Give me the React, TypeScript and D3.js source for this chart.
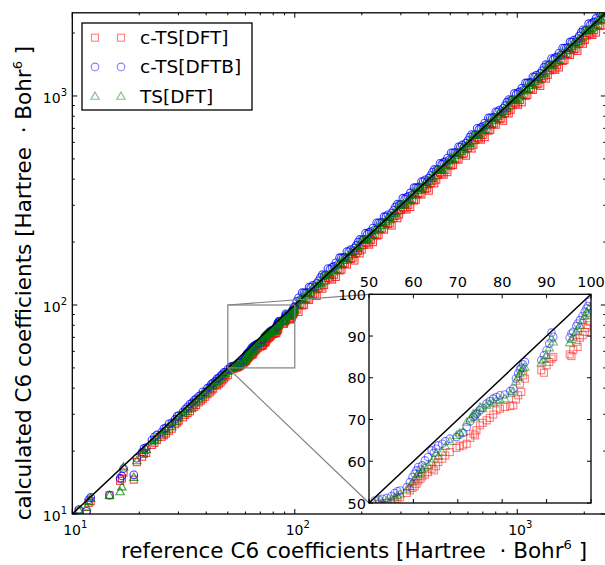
import React from "react";
import * as d3 from "d3";

// reference C6 values (x) and calculated values for each method (y), index-aligned
const refC6 = [
  10.7, 11.6, 11.85, 12.1, 14.7, 16.4, 16.7, 17.0, 18.9, 19.5, 20.6, 21.5, 22.8, 24.0, 25.2, 26.4, 28.0, 29.0, 30.1, 31.5, 33.0, 34.6, 36.0, 37.8, 39.6, 41.5, 43.0, 44.0, 45.6, 47.2, 48.8, 50.0,
  21.0, 23.4, 25.8, 27.2, 29.6, 32.2, 33.8, 35.3, 37.0, 38.6, 40.5, 42.2, 44.8, 46.4, 48.0,
  51.3, 53.0, 54.0, 55.8, 57.0, 58.5, 59.2, 60.3, 61.1, 62.0, 63.3, 64.1, 65.6, 66.5, 68.2, 69.7, 71.2, 72.0, 73.5, 74.2, 75.0, 76.5, 78.0, 78.7, 80.6, 82.5, 83.6, 84.3, 85.1, 88.8, 90.0, 91.1, 95.2, 96.0, 96.7, 97.5, 98.6, 99.3, 99.7,
  52.2, 55.0, 56.4, 59.8, 60.7, 61.6, 62.6, 64.6, 65.1, 67.2, 70.4, 72.8, 73.9, 75.6, 77.2, 79.5, 81.8, 83.1, 84.0, 84.7, 89.4, 90.6, 91.5, 95.6, 97.0, 98.1, 99.0,
  102, 106, 110, 114, 118, 123, 128, 133, 138, 144, 150, 156, 162, 168, 175, 182, 189, 196, 204, 212, 220, 229, 238, 247, 257, 267, 278, 289, 300, 312, 324, 337, 350, 364, 378, 393, 408, 424, 441, 458, 476, 495, 514, 534, 555, 577, 600, 623, 648, 673, 700, 727, 756, 785, 816, 848, 881, 916, 952, 989, 1028, 1068, 1110, 1153, 1198, 1245, 1294, 1345, 1398, 1452, 1509, 1568, 1630, 1694, 1760, 1829, 1900, 1975, 2052, 2133, 2216, 2303, 2393, 2480,
  104, 108, 112, 116, 120.5, 125.5, 130.5, 135.5, 141, 147, 153, 159, 165, 171.5, 178.5, 185.5, 192.5, 200, 208, 216, 224.5, 233.5, 242.5, 252, 262, 272.5, 283.5, 294.5, 306, 318, 330.5, 343.5, 357, 371, 385.5, 400.5, 416, 432.5, 449.5, 467, 485.5, 504.5, 524, 544.5, 566, 588.5, 611.5, 635.5, 660.5, 686.5, 713.5, 741.5, 770.5, 800.5, 832, 864.5, 898.5, 934, 970.5, 1008.5, 1048, 1089, 1131.5, 1175.5, 1221.5, 1269.5, 1319.5, 1371.5, 1425, 1480.5, 1538.5, 1599, 1662, 1727, 1794.5, 1864.5, 1937.5, 2013.5, 2092.5, 2174.5, 2259.5, 2348, 2436.5,
];

const ctsDft = [
  10.3, 10.0, 11.3, 11.5, 12.3, 14.4, 14.8, 15.8, 14.6, 17.7, 18.8, 19.6, 21.4, 22.6, 23.4, 24.3, 25.6, 26.9, 28.0, 29.0, 30.4, 32.1, 33.2, 34.9, 36.4, 38.2, 39.8, 41.4, 42.0, 43.6, 45.4, 46.2,
  19.4, 21.9, 23.8, 25.0, 27.4, 29.8, 31.0, 32.6, 34.2, 35.6, 37.4, 39.0, 41.2, 42.6, 44.4,
  48.9, 49.5, 50.0, 50.6, 51.4, 52.4, 53.0, 54.0, 55.4, 56.4, 57.4, 58.2, 59.8, 60.6, 62.2, 63.2, 63.8, 64.2, 66.6, 67.4, 68.6, 69.8, 71.2, 72.2, 73.0, 73.4, 75.8, 76.6, 79.8, 81.8, 83.0, 84.6, 85.6, 86.6, 88.6, 89.6, 91.0, 92.6, 93.4,
  49.8, 50.2, 51.0, 53.6, 54.6, 55.8, 56.8, 57.8, 58.8, 61.4, 63.6, 65.6, 66.2, 69.2, 70.4, 72.6, 73.2, 74.8, 78.6, 80.6, 81.2, 83.8, 85.0, 85.2, 87.4, 90.2, 92.0,
  94.9, 100.7, 100.1, 107.2, 113.3, 113.2, 120.3, 119.7, 131.1, 133.9, 139.5, 148.2, 147.4, 157.9, 168.0, 167.4, 177.7, 176.4, 193.8, 197.2, 204.6, 217.6, 216.6, 232.2, 246.7, 245.6, 261.3, 260.1, 285.0, 290.2, 301.3, 320.2, 318.5, 342.2, 362.9, 361.6, 383.5, 381.6, 419.0, 425.9, 442.7, 470.3, 467.7, 502.0, 532.8, 530.8, 564.0, 560.7, 615.6, 625.9, 651.0, 690.7, 688.0, 737.9, 783.4, 780.2, 828.1, 824.4, 904.4, 919.8, 956.0, 1014.6, 1010.1, 1083.8, 1150.1, 1145.4, 1216.4, 1210.5, 1328.1, 1350.4, 1403.4, 1489.6, 1483.3, 1592.4, 1689.6, 1682.7, 1786.0, 1777.5, 1949.4, 1983.7, 2060.9, 2187.9, 2177.6, 2331.2,
  92.6, 99.4, 106.4, 105.6, 112.1, 110.4, 122.7, 124.7, 135.4, 132.3, 136.2, 146.3, 156.8, 156.1, 166.0, 163.2, 181.0, 184.0, 199.7, 194.4, 199.8, 214.8, 230.4, 229.3, 243.7, 239.8, 266.5, 270.9, 293.8, 286.2, 294.1, 316.0, 339.2, 337.6, 358.5, 352.4, 391.0, 397.9, 431.5, 420.3, 432.1, 464.1, 497.8, 495.5, 526.4, 517.9, 574.8, 584.7, 634.1, 617.9, 635.0, 682.2, 732.0, 728.5, 773.8, 760.8, 844.6, 859.3, 931.7, 907.7, 932.7, 1001.9, 1074.9, 1069.7, 1136.0, 1117.2, 1240.3, 1261.8, 1368.0, 1332.5, 1369.3, 1471.1, 1578.9, 1571.6, 1668.9, 1640.8, 1821.3, 1852.4, 2008.8, 1957.1, 2011.0, 2160.2, 2314.7,
];

const ctsDftb = [
  10.5, 10.3, 11.7, 12.0, 12.3, 14.8, 15.2, 16.5, 15.4, 18.5, 19.8, 20.8, 22.6, 23.9, 24.6, 25.8, 27.3, 28.4, 29.6, 30.8, 32.6, 34.0, 35.6, 37.0, 38.4, 40.6, 42.4, 43.2, 44.8, 46.4, 47.8, 49.2,
  20.6, 23.4, 25.6, 27.0, 29.4, 31.8, 33.6, 35.0, 36.6, 38.4, 40.0, 41.8, 44.4, 45.8, 47.6,
  50.6, 51.0, 51.2, 52.4, 53.0, 53.8, 55.0, 57.0, 58.6, 59.0, 61.0, 62.6, 63.8, 64.2, 65.4, 65.8, 66.8, 68.2, 70.6, 71.4, 72.2, 73.8, 75.0, 75.4, 76.0, 77.4, 81.0, 82.4, 83.8, 84.2, 86.6, 90.8, 89.6, 91.0, 92.4, 93.8, 95.8, 97.2, 98.2,
  50.8, 51.6, 52.8, 56.2, 57.8, 58.0, 60.2, 62.0, 63.0, 64.8, 66.4, 69.6, 71.0, 72.8, 74.4, 75.8, 76.8, 79.8, 82.0, 83.2, 85.4, 88.2, 89.8, 90.6, 93.0, 94.8, 96.6,
  104.0, 106.0, 114.4, 115.1, 121.5, 121.8, 130.6, 139.7, 139.4, 148.3, 153.0, 156.0, 168.5, 169.7, 180.3, 180.2, 192.8, 205.8, 206.0, 218.4, 224.4, 229.0, 247.5, 249.5, 264.7, 264.3, 283.6, 303.5, 303.0, 321.4, 330.5, 337.0, 364.0, 367.6, 389.3, 389.1, 416.2, 445.2, 445.4, 471.7, 485.5, 495.0, 534.6, 539.3, 571.7, 571.2, 612.0, 654.2, 654.5, 693.2, 714.0, 727.0, 786.2, 792.9, 840.5, 839.5, 898.6, 961.8, 961.5, 1018.7, 1048.6, 1068.0, 1154.4, 1164.5, 1233.9, 1232.6, 1319.9, 1412.3, 1412.0, 1495.6, 1539.2, 1568.0, 1695.2, 1710.9, 1812.8, 1810.7, 1938.0, 2073.8, 2072.5, 2197.0, 2260.3, 2303.0, 2488.7, 2504.8,
  108.2, 114.5, 114.2, 121.8, 124.1, 126.8, 135.7, 138.2, 149.5, 151.4, 159.1, 168.5, 168.3, 180.1, 183.9, 187.4, 200.2, 204.0, 220.5, 222.5, 233.5, 247.5, 247.4, 264.6, 269.9, 275.2, 294.8, 300.4, 324.4, 327.5, 343.7, 364.1, 364.1, 389.6, 397.1, 404.5, 432.6, 441.2, 476.5, 481.0, 504.9, 534.8, 534.5, 571.7, 583.0, 594.4, 636.0, 648.2, 700.1, 707.1, 742.0, 786.0, 785.9, 840.5, 857.0, 873.1, 934.4, 952.7, 1028.7, 1038.8, 1089.9, 1154.3, 1154.1, 1234.3, 1258.1, 1282.2, 1372.3, 1398.9, 1510.5, 1524.9, 1600.0, 1694.9, 1695.2, 1813.4, 1848.3, 1883.1, 2015.0, 2053.8, 2218.1, 2239.7, 2349.9, 2488.9, 2485.2,
];

const tsDft = [
  10.45, 10.8, 11.5, 11.9, 12.3, 12.8, 13.5, 16.8, 15.0, 18.0, 19.6, 20.4, 22.2, 23.2, 24.0, 25.3, 26.2, 27.8, 29.2, 30.2, 31.8, 33.4, 34.8, 36.4, 37.8, 39.8, 41.4, 42.4, 43.8, 45.4, 47.1, 48.2,
  20.2, 22.8, 24.8, 26.2, 28.6, 31.0, 32.6, 34.2, 35.6, 37.2, 39.2, 40.8, 43.2, 44.8, 46.6,
  49.8, 50.2, 50.6, 51.4, 52.2, 53.2, 54.0, 55.8, 57.2, 58.0, 59.0, 59.8, 61.2, 62.2, 64.8, 66.2, 67.0, 69.4, 71.4, 71.8, 73.0, 73.4, 74.2, 74.6, 75.0, 76.8, 80.2, 81.6, 82.6, 83.6, 85.4, 89.4, 88.4, 89.8, 91.0, 92.6, 94.8, 95.4, 96.8,
  50.4, 51.0, 51.8, 55.0, 56.4, 57.0, 58.6, 60.6, 62.0, 63.6, 66.8, 70.2, 70.6, 72.6, 73.8, 74.8, 76.2, 79.2, 81.0, 82.4, 84.4, 87.2, 88.6, 89.2, 91.8, 93.8, 95.8,
  100.0, 104.9, 106.7, 114.0, 115.6, 118.1, 126.7, 130.3, 138.0, 139.7, 147.0, 154.4, 157.1, 168.0, 171.5, 174.7, 187.1, 192.1, 204.0, 205.6, 215.6, 226.7, 230.9, 247.0, 251.9, 256.3, 275.2, 283.2, 300.0, 302.6, 317.5, 333.6, 339.5, 364.0, 370.4, 377.3, 403.9, 415.5, 441.0, 444.3, 466.5, 490.1, 498.6, 534.0, 543.9, 553.9, 594.0, 610.5, 648.0, 652.8, 686.0, 719.7, 733.3, 785.0, 799.7, 814.1, 872.2, 897.7, 952.0, 959.3, 1007.4, 1057.3, 1076.7, 1153.0, 1174.0, 1195.2, 1281.1, 1318.1, 1398.0, 1408.4, 1478.8, 1552.3, 1581.1, 1694.0, 1724.8, 1755.8, 1881.0, 1935.5, 2052.0, 2069.0, 2171.7, 2280.0, 2321.2, 2480.0,
  100.9, 109.1, 110.9, 111.4, 120.5, 123.0, 126.6, 138.2, 139.6, 144.1, 148.4, 160.6, 163.4, 164.6, 178.5, 181.8, 186.7, 204.0, 205.9, 211.7, 217.8, 235.8, 240.1, 241.9, 262.0, 267.1, 275.0, 300.4, 302.9, 311.6, 320.6, 346.9, 353.4, 356.2, 385.5, 392.5, 403.5, 441.2, 445.0, 457.7, 470.9, 509.5, 518.8, 522.7, 566.0, 576.7, 593.2, 648.2, 653.9, 672.8, 692.1, 748.9, 762.8, 768.5, 832.0, 847.2, 871.5, 952.7, 960.8, 988.3, 1016.6, 1099.9, 1120.2, 1128.5, 1221.5, 1244.1, 1279.9, 1398.9, 1410.8, 1450.9, 1492.3, 1615.0, 1645.4, 1657.9, 1794.5, 1827.2, 1879.4, 2053.8, 2071.6, 2131.0, 2191.7, 2371.5, 2412.1,
];

const seriesNames = ["c-TS[DFT]", "c-TS[DFTB]", "TS[DFT]"];
const mainMajorTicks = [10, 100, 1000];
const mainMinorTicks = [20, 30, 40, 50, 60, 70, 80, 90, 200, 300, 400, 500, 600, 700, 800, 900, 2000];
const insetTicks = [50, 60, 70, 80, 90, 100];
const zoomBox = [50, 100];

const FONT = "DejaVu Sans";

type Shape = "square" | "circle" | "triangle";
const seriesStyle: { shape: Shape; color: string }[] = [
  { shape: "square", color: "#ff0000" },
  { shape: "circle", color: "#0000ff" },
  { shape: "triangle", color: "#008000" },
];

function Marker({ shape, color, cx, cy, op = 0.5 }: { shape: Shape; color: string; cx: number; cy: number; op?: number }) {
  const common = { fill: "none", stroke: color, strokeOpacity: op, strokeWidth: 1.1 };
  if (shape === "square") return <rect x={cx - 3.5} y={cy - 3.5} width={7} height={7} {...common} />;
  if (shape === "circle") return <circle cx={cx} cy={cy} r={3.8} {...common} />;
  const s = 4.2;
  return <path d={`M${cx},${cy - s} L${cx + s},${cy + s * 0.75} L${cx - s},${cy + s * 0.75} Z`} {...common} />;
}

export default function App() {
  const W = 605, H = 565;
  const x = d3.scaleLog().domain([10, 2500]).range([72.3, 605.8]);
  const y = d3.scaleLog().domain([10, 2500]).range([514, 12.8]);
  const ix = d3.scaleLinear().domain([50, 100]).range([369, 591]);
  const iy = d3.scaleLinear().domain([50, 100]).range([503, 294.3]);
  const ys = [ctsDft, ctsDftb, tsDft];

  const [x0, x1] = x.range();
  const [yb, yt] = y.range();

  const sup = (s: string, size = 10, shift = 7) => (
    <tspan dy={-shift} fontSize={size}>{s}</tspan>
  );

  return (
    <svg width={W} height={H} style={{ position: "absolute", left: 0, top: 0, background: "#fff" }} fontFamily={FONT}>
      <defs>
        <clipPath id="mainClip"><rect x={x0} y={yt} width={x1 - x0} height={yb - yt} /></clipPath>
        <clipPath id="insetClip"><rect x={369} y={294.3} width={222} height={208.7} /></clipPath>
      </defs>
      <rect width={W} height={H} fill="#fff" />

      {/* main points */}
      <g clipPath="url(#mainClip)">
        {ys.map((vals, si) => (
          <g key={si}>
            {refC6.map((r, i) => (
              <Marker key={i} shape={seriesStyle[si].shape} color={seriesStyle[si].color} cx={x(r)} cy={y(vals[i])} op={0.75} />
            ))}
          </g>
        ))}
        <line x1={x(10)} y1={y(10)} x2={x(2500)} y2={y(2500)} stroke="#000" strokeWidth={1.5} />
      </g>

      {/* main spines */}
      <rect x={x0} y={yt} width={x1 - x0} height={yb - yt} fill="none" stroke="#000" strokeWidth={1.3} />

      {/* main ticks */}
      <g stroke="#000" strokeWidth={1}>
        {mainMajorTicks.map((t) => (
          <g key={"M" + t}>
            <line x1={x(t)} x2={x(t)} y1={yb} y2={yb - 5} />
            <line x1={x(t)} x2={x(t)} y1={yt} y2={yt + 5} />
            <line y1={y(t)} y2={y(t)} x1={x0} x2={x0 + 5} />
            <line y1={y(t)} y2={y(t)} x1={x1} x2={x1 - 5} />
          </g>
        ))}
        {mainMinorTicks.map((t) => (
          <g key={"m" + t}>
            <line x1={x(t)} x2={x(t)} y1={yb} y2={yb - 2.5} />
            <line x1={x(t)} x2={x(t)} y1={yt} y2={yt + 2.5} />
            <line y1={y(t)} y2={y(t)} x1={x0} x2={x0 + 2.5} />
            <line y1={y(t)} y2={y(t)} x1={x1} x2={x1 - 2.5} />
          </g>
        ))}
      </g>

      {/* main tick labels */}
      <g fontSize={14} fill="#000">
        {mainMajorTicks.map((t, i) => (
          <text key={"xl" + t} x={x(t) + 3} y={535} textAnchor="middle">10{sup(String(i + 1))}</text>
        ))}
        {mainMajorTicks.map((t, i) => (
          <text key={"yl" + t} x={67} y={y(t) + 7} textAnchor="end">10{sup(String(i + 1))}</text>
        ))}
      </g>

      {/* axis labels */}
      <text x={354} y={558} textAnchor="middle" fontSize={21.5}>
        reference C6 coefficients [Hartree {"\u00a0"}· Bohr{sup("6", 13, 9)}<tspan dy={9}>{"\u00a0"}]</tspan>
      </text>
      <text transform="translate(31,283) rotate(-90)" textAnchor="middle" fontSize={21.5}>
        calculated C6 coefficients [Hartree {"\u00a0"}· Bohr{sup("6", 13, 9)}<tspan dy={9}>{"\u00a0"}]</tspan>
      </text>

      {/* zoom box and connectors */}
      <g stroke="#808080" strokeWidth={1.2} fill="none">
        <rect x={x(zoomBox[0])} y={y(zoomBox[1])} width={x(zoomBox[1]) - x(zoomBox[0])} height={y(zoomBox[0]) - y(zoomBox[1])} />
        <line x1={x(zoomBox[0])} y1={y(zoomBox[1])} x2={ix(50)} y2={iy(100)} />
        <line x1={x(zoomBox[0])} y1={y(zoomBox[0])} x2={ix(50)} y2={iy(50)} />
      </g>

      {/* legend */}
      <g>
        <rect x={82} y={23} width={170} height={87} fill="#fff" stroke="#000" strokeWidth={1.3} />
        {seriesNames.map((n, i) => {
          const ry = 37.7 + i * 29.2;
          return (
            <g key={n}>
              <Marker shape={seriesStyle[i].shape} color={seriesStyle[i].color} cx={95} cy={ry} />
              <Marker shape={seriesStyle[i].shape} color={seriesStyle[i].color} cx={121} cy={ry} />
              <text x={140} y={ry + 6.5} fontSize={18.5}>{n}</text>
            </g>
          );
        })}
      </g>

      {/* inset */}
      <rect x={369} y={294.3} width={222} height={208.7} fill="#fff" />
      <g clipPath="url(#insetClip)">
        {ys.map((vals, si) => (
          <g key={si}>
            {refC6.map((r, i) =>
              r >= 45 && r <= 105 ? (
                <Marker key={i} shape={seriesStyle[si].shape} color={seriesStyle[si].color} cx={ix(r)} cy={iy(vals[i])} />
              ) : null
            )}
          </g>
        ))}
        <line x1={ix(50)} y1={iy(50)} x2={ix(100)} y2={iy(100)} stroke="#000" strokeWidth={1.5} />
      </g>
      <rect x={369} y={294.3} width={222} height={208.7} fill="none" stroke="#000" strokeWidth={1.3} />
      <g stroke="#000" strokeWidth={1}>
        {insetTicks.map((t) => (
          <g key={"it" + t}>
            <line x1={ix(t)} x2={ix(t)} y1={503} y2={499} />
            <line x1={ix(t)} x2={ix(t)} y1={294.3} y2={298.3} />
            <line y1={iy(t)} y2={iy(t)} x1={369} x2={373} />
            <line y1={iy(t)} y2={iy(t)} x1={591} x2={587} />
          </g>
        ))}
      </g>
      <g fontSize={14.5} fill="#000">
        {insetTicks.map((t) => (
          <text key={"ixl" + t} x={ix(t)} y={287} textAnchor="middle">{t}</text>
        ))}
        {insetTicks.map((t) => (
          <text key={"iyl" + t} x={366} y={iy(t) + 5.5} textAnchor="end">{t}</text>
        ))}
      </g>
    </svg>
  );
}
